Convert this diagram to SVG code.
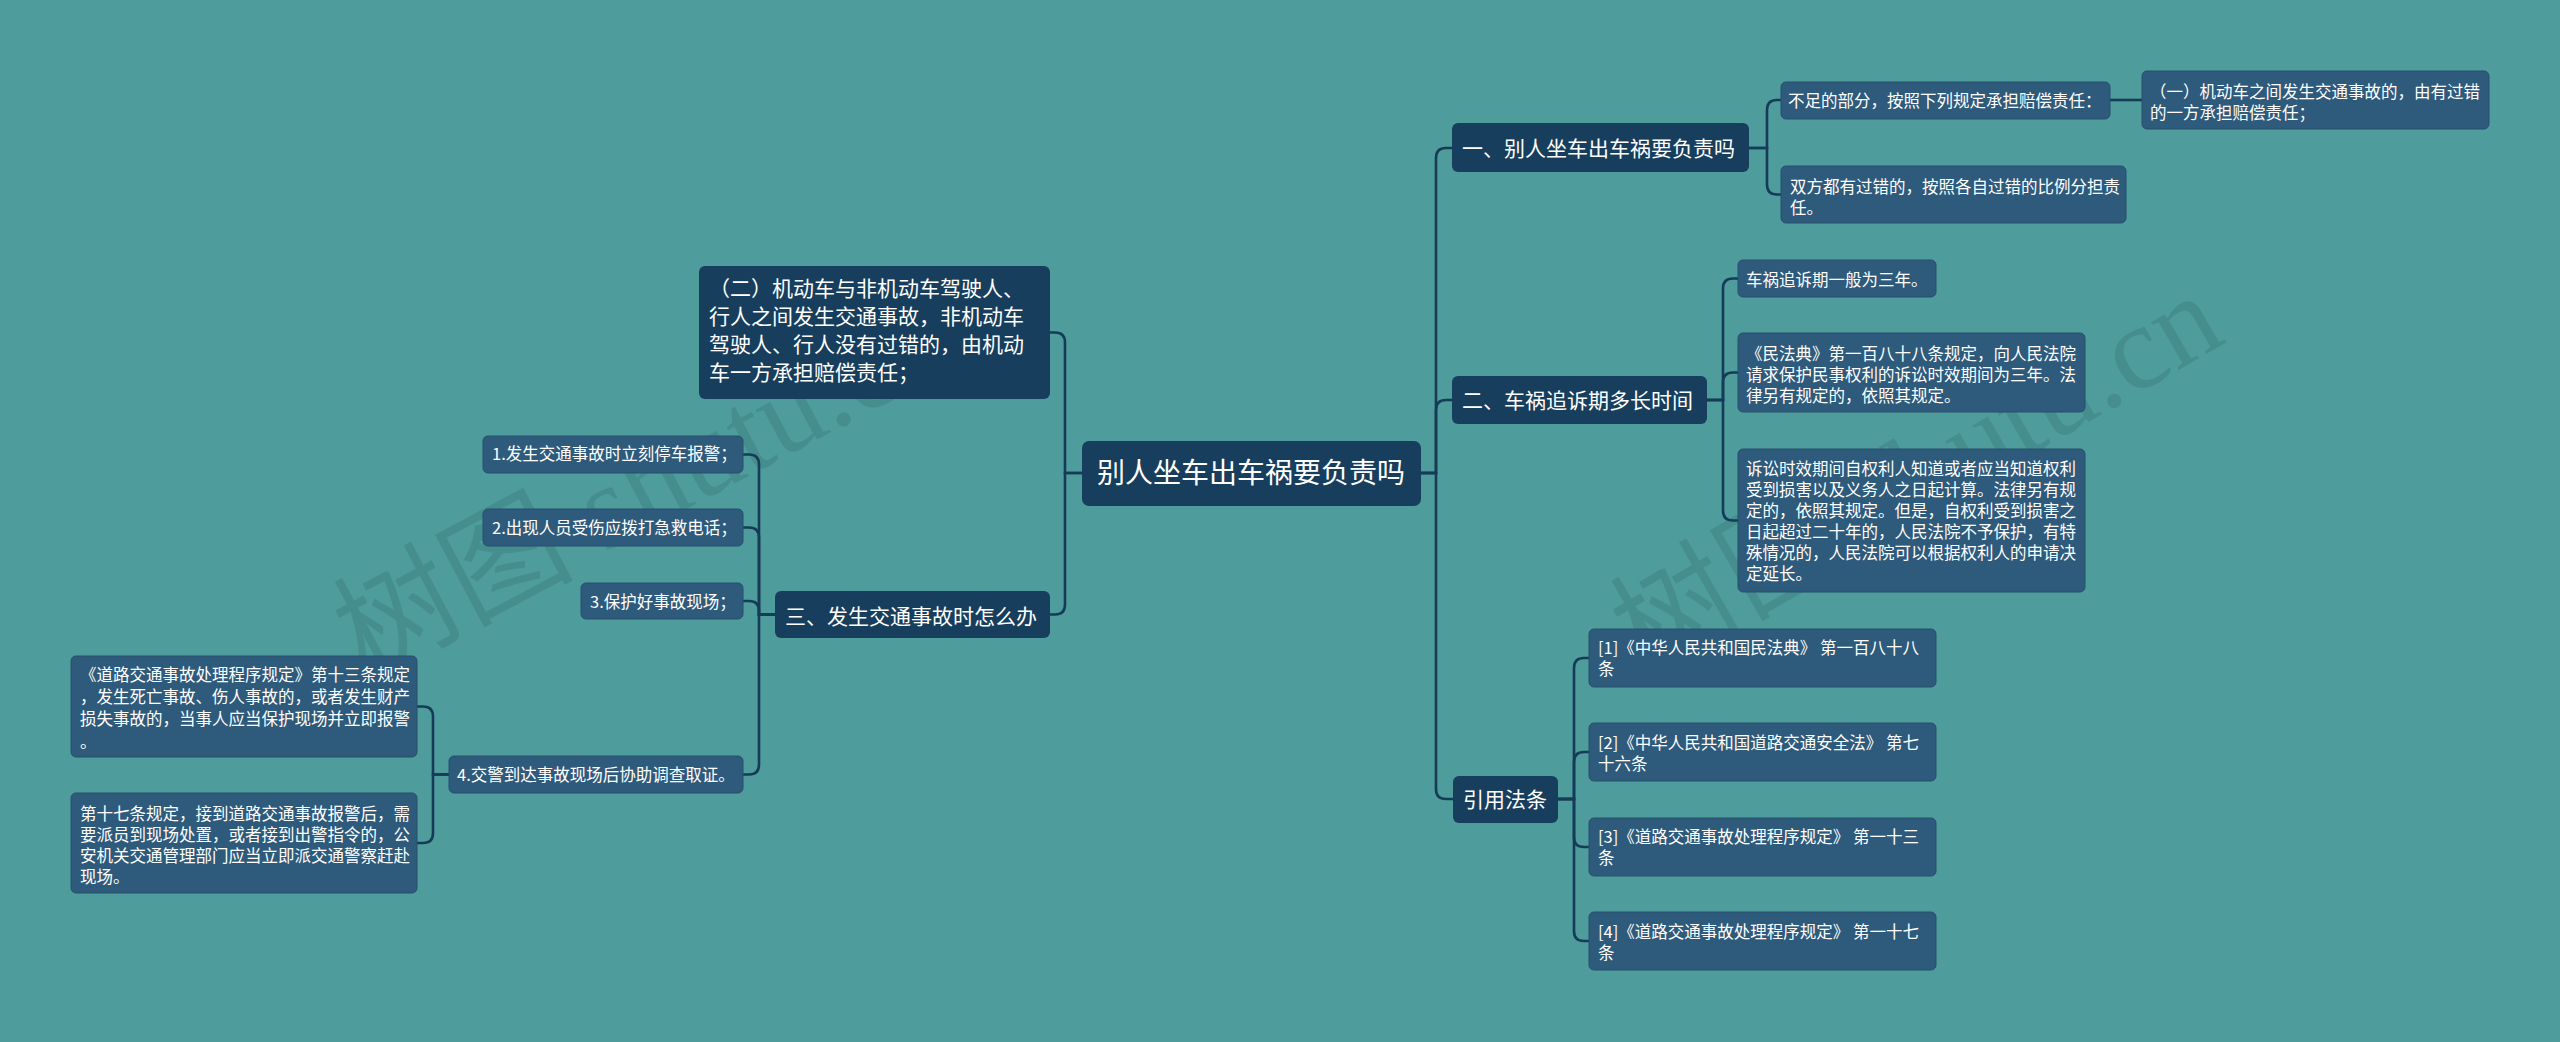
<svg xmlns="http://www.w3.org/2000/svg" width="2560" height="1042" viewBox="0 0 2560 1042">
<style>
.bg{fill:#4e9d9c}
.wm{font-family:"Liberation Serif","Noto Sans CJK SC",serif;font-size:120px;fill:#2d5e66;opacity:0.24}
.n0 rect{fill:#173e5d}
.n1 rect{fill:#173e5d}
.n2 rect{fill:#2e5a7b;stroke:#274f6d;stroke-width:1}
text.t{font-family:"Noto Sans CJK SC","Noto Sans",sans-serif;fill:#ffffff}
.n0 text{font-size:28px}
.n1 text{font-size:21px}
.n2 text{font-size:16.5px}
.c path{fill:none;stroke:#163b57;stroke-width:2.6}
</style>
<rect class="bg" x="0" y="0" width="2560" height="1042"/>
<g id="watermarks">
<text class="wm" x="365" y="680" transform="rotate(-28 365 680)">树图 shutu.cn</text>
<text class="wm" x="1645" y="678" transform="rotate(-30 1645 678)">树图 shutu.cn</text>
</g>
<g id="connectors" class="c">
<path d="M1421 473 H1436 V158 Q1436 148 1446 148 H1452"/>
<path d="M1421 473 H1436 V410 Q1436 400 1446 400 H1452"/>
<path d="M1421 473 H1436 V789 Q1436 799 1446 799 H1453"/>
<path d="M1749 148 H1767 V110 Q1767 100 1777 100 H1781"/>
<path d="M1749 148 H1767 V184.5 Q1767 194.5 1777 194.5 H1781"/>
<path d="M2110 100 H2142"/>
<path d="M1707 400 H1723 V288.5 Q1723 278.5 1733 278.5 H1738"/>
<path d="M1707 400 H1723 V382.5 Q1723 372.5 1733 372.5 H1738"/>
<path d="M1707 400 H1723 V510.5 Q1723 520.5 1733 520.5 H1738"/>
<path d="M1558 799 H1574 V668 Q1574 658 1584 658 H1589"/>
<path d="M1558 799 H1574 V762 Q1574 752 1584 752 H1589"/>
<path d="M1558 799 H1574 V837 Q1574 847 1584 847 H1589"/>
<path d="M1558 799 H1574 V931 Q1574 941 1584 941 H1589"/>
<path d="M1082 473 H1065 V342.5 Q1065 332.5 1055 332.5 H1050"/>
<path d="M1082 473 H1065 V604.5 Q1065 614.5 1055 614.5 H1050"/>
<path d="M775 614.5 H759 V464.5 Q759 454.5 749 454.5 H743"/>
<path d="M775 614.5 H759 V537.5 Q759 527.5 749 527.5 H743"/>
<path d="M775 614.5 H759 V611 Q759 601 749 601 H743"/>
<path d="M775 614.5 H759 V764.5 Q759 774.5 749 774.5 H743"/>
<path d="M449 774.5 H433 V716.5 Q433 706.5 423 706.5 H417"/>
<path d="M449 774.5 H433 V833 Q433 843 423 843 H417"/>
</g>
<g id="root" class="n0"><rect x="1082" y="441" width="339" height="65" rx="7"/><text class="t" x="1097" y="483">别人坐车出车祸要负责吗</text></g>
<g id="n-yi" class="n1"><rect x="1452" y="123" width="297" height="49" rx="6"/><text class="t" x="1462" y="155.5">一、别人坐车出车祸要负责吗</text></g>
<g id="n-er" class="n1"><rect x="1452" y="376" width="255" height="48" rx="6"/><text class="t" x="1462" y="407.5">二、车祸追诉期多长时间</text></g>
<g id="n-yinyong" class="n1"><rect x="1453" y="776" width="105" height="47" rx="6"/><text class="t" x="1463" y="806.5">引用法条</text></g>
<g id="n-erkuo" class="n1"><rect x="699" y="266" width="351" height="133" rx="6"/><text class="t" x="709" y="295.5"><tspan x="709">（二）机动车与非机动车驾驶人、</tspan><tspan x="709" dy="28">行人之间发生交通事故，非机动车</tspan><tspan x="709" dy="28">驾驶人、行人没有过错的，由机动</tspan><tspan x="709" dy="28">车一方承担赔偿责任；</tspan></text></g>
<g id="n-san" class="n1"><rect x="775" y="591" width="275" height="47" rx="6"/><text class="t" x="785" y="623.5">三、发生交通事故时怎么办</text></g>
<g id="n-buzu" class="n2"><rect x="1781" y="82" width="329" height="37" rx="5"/><text class="t" x="1788" y="107">不足的部分，按照下列规定承担赔偿责任：</text></g>
<g id="n-yikuo" class="n2"><rect x="2142" y="71" width="347" height="58" rx="5"/><text class="t" x="2150" y="98"><tspan x="2150">（一）机动车之间发生交通事故的，由有过错</tspan><tspan x="2150" dy="21">的一方承担赔偿责任；</tspan></text></g>
<g id="n-shuangfang" class="n2"><rect x="1781" y="166" width="345" height="57" rx="5"/><text class="t" x="1790" y="193"><tspan x="1790">双方都有过错的，按照各自过错的比例分担责</tspan><tspan x="1790" dy="21">任。</tspan></text></g>
<g id="n-zhuisu" class="n2"><rect x="1738" y="260" width="198" height="37" rx="5"/><text class="t" x="1746" y="286">车祸追诉期一般为三年。</text></g>
<g id="n-minfadian" class="n2"><rect x="1738" y="333" width="347" height="79" rx="5"/><text class="t" x="1746" y="360"><tspan x="1746">《民法典》第一百八十八条规定，向人民法院</tspan><tspan x="1746" dy="21">请求保护民事权利的诉讼时效期间为三年。法</tspan><tspan x="1746" dy="21">律另有规定的，依照其规定。</tspan></text></g>
<g id="n-susong" class="n2"><rect x="1738" y="449" width="347" height="143" rx="5"/><text class="t" x="1746" y="475"><tspan x="1746">诉讼时效期间自权利人知道或者应当知道权利</tspan><tspan x="1746" dy="21">受到损害以及义务人之日起计算。法律另有规</tspan><tspan x="1746" dy="21">定的，依照其规定。但是，自权利受到损害之</tspan><tspan x="1746" dy="21">日起超过二十年的，人民法院不予保护，有特</tspan><tspan x="1746" dy="21">殊情况的，人民法院可以根据权利人的申请决</tspan><tspan x="1746" dy="21">定延长。</tspan></text></g>
<g id="n-ref1" class="n2"><rect x="1589" y="629" width="347" height="58" rx="5"/><text class="t" x="1598" y="654"><tspan x="1598">[1]《中华人民共和国民法典》 第一百八十八</tspan><tspan x="1598" dy="21">条</tspan></text></g>
<g id="n-ref2" class="n2"><rect x="1589" y="723" width="347" height="58" rx="5"/><text class="t" x="1598" y="749"><tspan x="1598">[2]《中华人民共和国道路交通安全法》 第七</tspan><tspan x="1598" dy="21">十六条</tspan></text></g>
<g id="n-ref3" class="n2"><rect x="1589" y="818" width="347" height="58" rx="5"/><text class="t" x="1598" y="843"><tspan x="1598">[3]《道路交通事故处理程序规定》 第一十三</tspan><tspan x="1598" dy="21">条</tspan></text></g>
<g id="n-ref4" class="n2"><rect x="1589" y="912" width="347" height="58" rx="5"/><text class="t" x="1598" y="938"><tspan x="1598">[4]《道路交通事故处理程序规定》 第一十七</tspan><tspan x="1598" dy="21">条</tspan></text></g>
<g id="n-step1" class="n2"><rect x="483" y="436" width="260" height="37" rx="5"/><text class="t" x="492" y="460">1.发生交通事故时立刻停车报警；</text></g>
<g id="n-step2" class="n2"><rect x="483" y="509" width="260" height="37" rx="5"/><text class="t" x="492" y="533.5">2.出现人员受伤应拨打急救电话；</text></g>
<g id="n-step3" class="n2"><rect x="581" y="583" width="162" height="36" rx="5"/><text class="t" x="590" y="607.5">3.保护好事故现场；</text></g>
<g id="n-step4" class="n2"><rect x="449" y="756" width="294" height="37" rx="5"/><text class="t" x="457" y="781">4.交警到达事故现场后协助调查取证。</text></g>
<g id="n-di13" class="n2"><rect x="71" y="656" width="346" height="101" rx="5"/><text class="t" x="80" y="681"><tspan x="80">《道路交通事故处理程序规定》第十三条规定</tspan><tspan x="80" dy="22.2">，发生死亡事故、伤人事故的，或者发生财产</tspan><tspan x="80" dy="22.2">损失事故的，当事人应当保护现场并立即报警</tspan><tspan x="80" dy="22.2">。</tspan></text></g>
<g id="n-di17" class="n2"><rect x="71" y="793" width="346" height="100" rx="5"/><text class="t" x="80" y="820"><tspan x="80">第十七条规定，接到道路交通事故报警后，需</tspan><tspan x="80" dy="21.1">要派员到现场处置，或者接到出警指令的，公</tspan><tspan x="80" dy="21.1">安机关交通管理部门应当立即派交通警察赶赴</tspan><tspan x="80" dy="21.1">现场。</tspan></text></g>
</svg>
